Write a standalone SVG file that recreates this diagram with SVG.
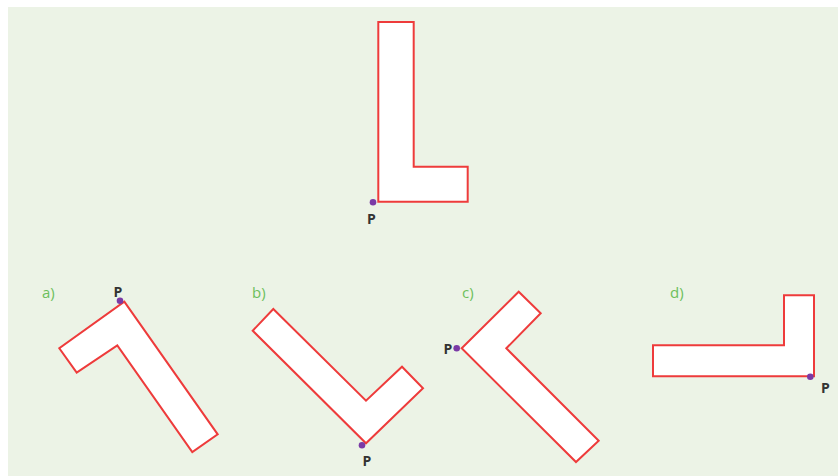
<svg xmlns="http://www.w3.org/2000/svg" width="838" height="476" viewBox="0 0 838 476">
<style>
.shape{fill:#ffffff;stroke:#ee3b3b;stroke-width:2;stroke-linejoin:miter}
.dot{fill:#7a3aa6}
.p{font-family:"Open Sans","Liberation Sans",sans-serif;font-weight:bold;font-size:14px;fill:#333333}
.lbl{font-family:"Open Sans","Liberation Sans",sans-serif;font-size:15px;fill:#6cbf5c}
</style>
<rect x="0" y="0" width="838" height="476" fill="#ffffff"/>
<rect x="8" y="7" width="830" height="469" fill="#ecf3e6"/>
<g id="original">
<polygon class="shape" points="378.3,22 413.7,22 413.7,166.7 467.7,166.7 467.7,201.7 378.3,201.7"/>
<circle class="dot" cx="373" cy="202.3" r="3.3"/>
<text class="p" x="371.5" y="224" text-anchor="middle">P</text>
</g>
<g id="option-a">
<text class="lbl" x="42" y="298">a)</text>
<polygon class="shape" points="124.3,301.7 217.7,434.3 192.3,452 117.3,345.3 76.7,372.7 59.3,348.3"/>
<circle class="dot" cx="120" cy="300.7" r="3.3"/>
<text class="p" x="118" y="297" text-anchor="middle">P</text>
</g>
<g id="option-b">
<text class="lbl" x="252" y="298">b)</text>
<polygon class="shape" points="273.3,309 366,400.7 402,366.7 423,388.3 366,443.3 252.7,330.7"/>
<circle class="dot" cx="362" cy="445.3" r="3.3"/>
<text class="p" x="367" y="466" text-anchor="middle">P</text>
</g>
<g id="option-c">
<text class="lbl" x="462" y="298">c)</text>
<polygon class="shape" points="461.7,348.3 518.7,291.7 540.7,313.3 506.3,348.3 598.7,440.7 576,462"/>
<circle class="dot" cx="456.7" cy="348.3" r="3.3"/>
<text class="p" x="448" y="354" text-anchor="middle">P</text>
</g>
<g id="option-d">
<text class="lbl" x="670" y="298">d)</text>
<polygon class="shape" points="653,345.3 784,345.3 784,295.3 814,295.3 814,376.3 653,376.3"/>
<circle class="dot" cx="810.3" cy="376.7" r="3.3"/>
<text class="p" x="825.3" y="393" text-anchor="middle">P</text>
</g>
<g id="connectors"/>
</svg>
